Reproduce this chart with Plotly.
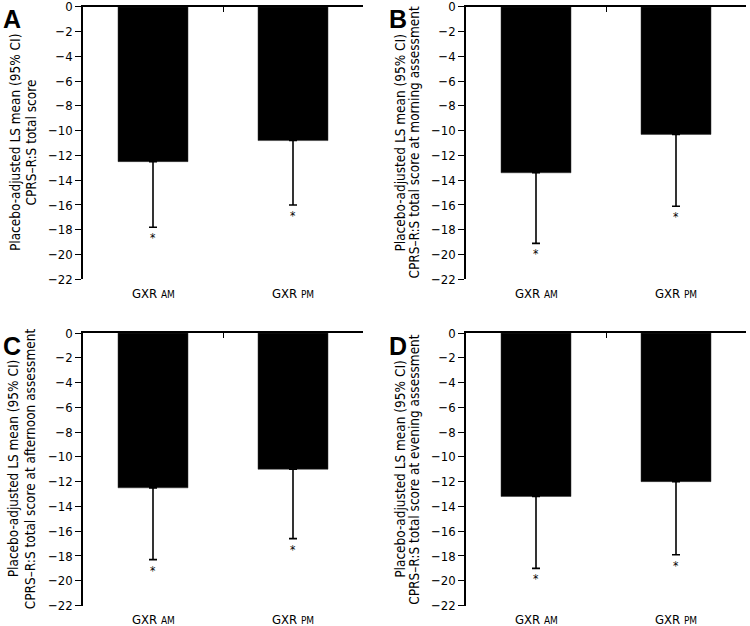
import plotly.graph_objects as go

# ---------------- data ----------------
categories = ["GXR AM", "GXR PM"]
cat_main = ["GXR", "GXR"]
cat_small = ["AM", "PM"]
panel_letters = ["A", "B", "C", "D"]
title_line1 = "Placebo-adjusted LS mean (95% CI)"
title_line2 = [
    "CPRS–R:S total score",
    "CPRS–R:S total score at morning assessment",
    "CPRS–R:S total score at afternoon assessment",
    "CPRS–R:S total score at evening assessment",
]
means_am = [-12.5, -13.4, -12.5, -13.2]
lower_am = [-17.8, -19.1, -18.3, -19.0]
means_pm = [-10.8, -10.3, -11.0, -12.0]
lower_pm = [-16.0, -16.1, -16.6, -17.9]
y_ticks = [0, -2, -4, -6, -8, -10, -12, -14, -16, -18, -20, -22]

# ---------------- layout geometry (pixels) ----------------
W, H = 750, 626
x_dom_px = [(83, 363), (466, 746), (83, 363), (466, 746)]
y_dom_px = [(6.8, 279.3), (6.8, 279.3), (333, 605.5), (333, 605.5)]
title_x_px = [(15, 31.5), (400.5, 414.5), (13, 30), (400.5, 414.5)]
letter_pos_px = [(1, 3), (387, 3), (1, 330), (387, 330)]


def px_x(v):
    return v / W


def px_y(v):
    return 1 - v / H


FONT = "DejaVu Sans Condensed, Liberation Sans Narrow, Arial Narrow, sans-serif"

fig = go.Figure()
layout = dict(
    width=W, height=H,
    margin=dict(l=0, r=0, t=0, b=0, autoexpand=False),
    paper_bgcolor="white", plot_bgcolor="white",
    showlegend=False,
    font=dict(family=FONT, size=13, color="black"),
    bargap=0.5,
)
annotations = []

for i in range(4):
    xs = "x" if i == 0 else f"x{i+1}"
    ys = "y" if i == 0 else f"y{i+1}"
    xa = "xaxis" if i == 0 else f"xaxis{i+1}"
    ya = "yaxis" if i == 0 else f"yaxis{i+1}"
    means = [means_am[i], means_pm[i]]
    lows = [lower_am[i], lower_pm[i]]
    minus = [m - l for m, l in zip(means, lows)]
    fig.add_trace(go.Bar(
        x=categories, y=means, xaxis=xs, yaxis=ys,
        width=0.5,
        marker=dict(color="black", line=dict(color="#333", width=0.5)),
        error_y=dict(type="data", symmetric=False, array=[0, 0],
                     arrayminus=minus, color="black", thickness=1.6, width=4),
    ))
    x0, x1 = x_dom_px[i]
    yt, yb = y_dom_px[i]
    layout[xa] = dict(
        domain=[px_x(x0), px_x(x1)], anchor=ys, type="category",
        range=[-0.5, 1.5], side="top", automargin=False,
        showline=True, linecolor="black", linewidth=1.5,
        ticks="inside", ticklen=5, tickwidth=1.3, tickcolor="black",
        tickson="boundaries", showticklabels=False, showgrid=False,
        zeroline=False,
    )
    layout[ya] = dict(
        domain=[px_y(yb), px_y(yt)], anchor=xs, automargin=False,
        range=[-22, 0], tickvals=y_ticks, ticklabeloverflow="allow",
        showline=True, linecolor="black", linewidth=1.6,
        ticks="outside", ticklen=6, tickwidth=1.3, tickcolor="black",
        showgrid=False, zeroline=False,
        tickfont=dict(family=FONT, size=13, color="black"),
    )
    # x category labels below the plot
    for c, mn, sm in zip(categories, cat_main, cat_small):
        annotations.append(dict(
            x=c, y=-22, xref=xs, yref=ys, showarrow=False,
            text=f"{mn} <span style='font-size:10px'>{sm}</span>",
            xanchor="center", yanchor="middle", yshift=-14,
            font=dict(family=FONT, size=13, color="black"),
        ))
    # asterisks
    for c, l in zip(categories, lows):
        annotations.append(dict(
            x=c, y=l, xref=xs, yref=ys, showarrow=False, text="*",
            xanchor="center", yanchor="top", yshift=-2,
            font=dict(family=FONT, size=12, color="black"),
        ))
    # y titles
    ymid = px_y((yt + yb) / 2)
    tx1, tx2 = title_x_px[i]
    for txt, tx in ((title_line1, tx1), (title_line2[i], tx2)):
        annotations.append(dict(
            x=px_x(tx), y=ymid, xref="paper", yref="paper", showarrow=False,
            text=txt, textangle=-90, xanchor="center", yanchor="middle",
            font=dict(family=FONT, size=13.5, color="black"),
        ))
    # panel letter
    lx, ly = letter_pos_px[i]
    annotations.append(dict(
        x=px_x(lx), y=px_y(ly), xref="paper", yref="paper", showarrow=False,
        text=f"<b>{panel_letters[i]}</b>", xanchor="left", yanchor="top",
        font=dict(family="Liberation Sans, Arial, sans-serif", size=25, color="black"),
    ))

layout["annotations"] = annotations
fig.update_layout(**layout)
fig.write_html("out.html", config={"displayModeBar": False},
               post_script="document.body.style.margin='0';")
